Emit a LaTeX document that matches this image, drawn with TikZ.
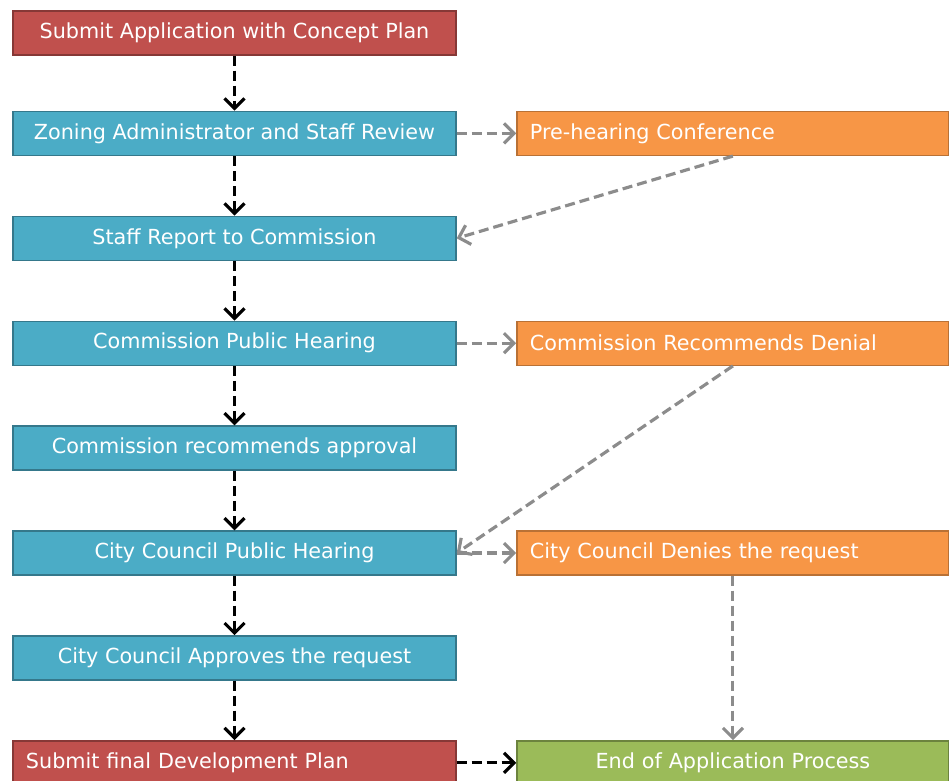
\documentclass[tikz,border=0pt]{standalone}
\usepackage{fontspec}
\setmainfont{DejaVu Sans}
\usetikzlibrary{arrows.meta, positioning}

\definecolor{planred}{HTML}{C0504D}
\definecolor{reviewteal}{HTML}{4BACC6}
\definecolor{denyorange}{HTML}{F79646}
\definecolor{endgreen}{HTML}{9BBB59}

\begin{document}
\begin{tikzpicture}[->,>={Straight Barb[length=2mm,width=4mm]}, node distance=1.19cm, thick]
    \tikzstyle{stage}=[rectangle,
                       draw=reviewteal!70!black,
                       fill=reviewteal,
                       text=white,
                       minimum width=8.86cm,
                       minimum height=0.88cm,
                       inner xsep=0.26cm, inner ysep=0pt,
                       font=\fontsize{11.8}{13}\selectfont]
    \tikzstyle{redstage}=[stage, draw=planred!70!black, fill=planred]
    \tikzstyle{sidestage}=[stage, draw=denyorange!75!black, fill=denyorange,
                       minimum width=8.64cm, text width=8.12cm, align=left]
    \tikzstyle{endstage}=[sidestage, draw=endgreen!70!black, fill=endgreen, align=center]
    \tikzstyle{mainflow}=[black, line width=1.8pt, dash pattern=on 2mm off 1mm]
    \tikzstyle{sideflow}=[black!45, line width=1.8pt, dash pattern=on 2mm off 1mm]

    \useasboundingbox (0,0) rectangle (18.98,-15.62);

    \node[redstage] (submit)   at (4.69,-0.66) {Submit Application with Concept Plan};
    \node[stage]    (zoning)   [below=1.1cm of submit] {Zoning Administrator and Staff Review};
    \node[stage]    (report)   [below=of zoning]   {Staff Report to Commission};
    \node[stage]    (hearing)  [below=of report]   {Commission Public Hearing};
    \node[stage]    (approval) [below=of hearing]  {Commission recommends approval};
    \node[stage]    (council)  [below=of approval] {City Council Public Hearing};
    \node[stage]    (approves) [below=of council]  {City Council Approves the request};
    \node[redstage, text width=8.34cm, align=left] (final) [below=of approves] {Submit final Development Plan};

    \node[sidestage] (prehearing) [right=of zoning]  {Pre-hearing Conference};
    \node[sidestage] (denial)     [right=of hearing] {Commission Recommends Denial};
    \node[sidestage] (denies)     [right=of council] {City Council Denies the request};
    \node[endstage]  (finish)     [right=of final]   {End of Application Process};

    \path (submit)   edge[mainflow] (zoning)
          (zoning)   edge[mainflow] (report)
          (report)   edge[mainflow] (hearing)
          (hearing)  edge[mainflow] (approval)
          (approval) edge[mainflow] (council)
          (council)  edge[mainflow] (approves)
          (approves) edge[mainflow] (final)
          (final)    edge[mainflow] (finish);

    \path (zoning)           edge[sideflow] (prehearing)
          (prehearing.south) edge[sideflow] (report.east)
          (hearing)          edge[sideflow] (denial)
          (denial.south)     edge[sideflow] (council.east)
          (council)          edge[sideflow] (denies)
          (denies)           edge[sideflow] (finish);
\end{tikzpicture}
\end{document}
